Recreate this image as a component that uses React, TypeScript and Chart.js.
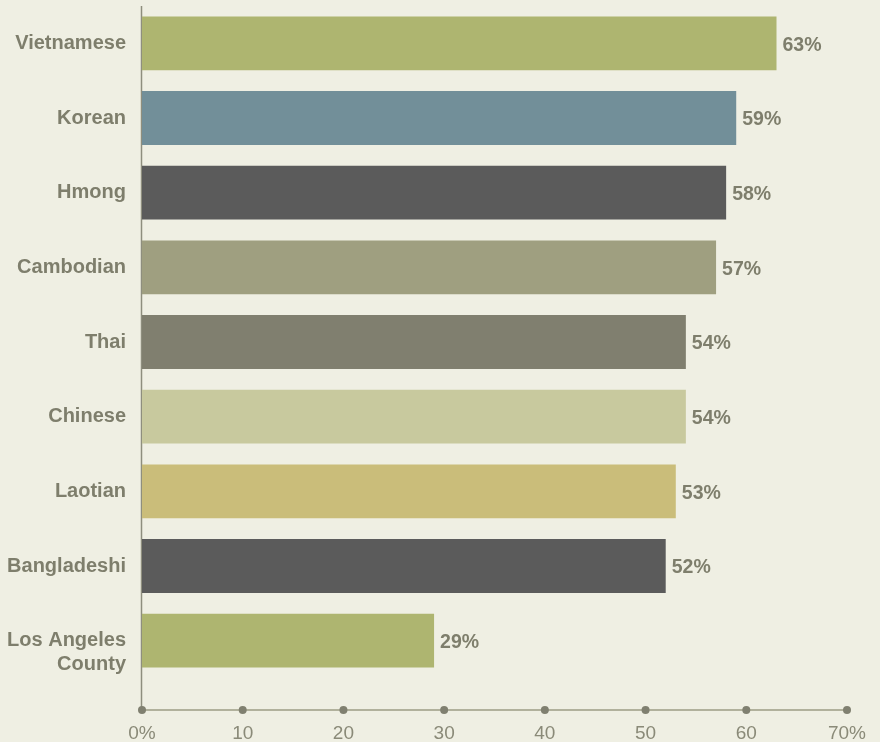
import React, { useEffect, useRef } from "react";
import { Chart, registerables } from "chart.js";

Chart.register(...registerables);

const categories: (string | string[])[] = [
  "Vietnamese",
  "Korean",
  "Hmong",
  "Cambodian",
  "Thai",
  "Chinese",
  "Laotian",
  "Bangladeshi",
  ["", "Los Angeles", "County"],
];
const values = [63, 59, 58, 57, 54, 54, 53, 52, 29];
const barColors = [
  "#aeb570",
  "#728f99",
  "#5b5b5b",
  "#9f9f80",
  "#807f6f",
  "#c8c99e",
  "#cabd7a",
  "#5b5b5b",
  "#aeb570",
];
const xTicks = [0, 10, 20, 30, 40, 50, 60, 70];

const BG = "#efefe3";
const TEXT = "#7e7e6c";
const FONT = "'Liberation Sans', Arial, sans-serif";

export default function App() {
  const ref = useRef<HTMLCanvasElement | null>(null);

  useEffect(() => {
    document.body.style.margin = "0";
    document.body.style.background = BG;
    const canvas = ref.current;
    if (!canvas) return;

    const bgPlugin = {
      id: "bg",
      beforeDraw(chart: any) {
        const ctx = chart.ctx;
        ctx.save();
        ctx.fillStyle = BG;
        ctx.fillRect(0, 0, chart.width, chart.height);
        ctx.restore();
      },
    };

    const axesPlugin = {
      id: "axesDeco",
      beforeDatasetsDraw(chart: any) {
        const ctx = chart.ctx;
        const xs = chart.scales.x;
        const area = chart.chartArea;
        const axisY = area.bottom + 32;
        const x0 = xs.getPixelForValue(0);
        ctx.save();
        // vertical axis
        ctx.strokeStyle = "#8e8e7e";
        ctx.lineWidth = 1.5;
        ctx.beginPath();
        ctx.moveTo(x0 - 0.5, area.top);
        ctx.lineTo(x0 - 0.5, axisY);
        ctx.stroke();
        // horizontal axis
        ctx.strokeStyle = "#b1b19c";
        ctx.lineWidth = 2;
        ctx.beginPath();
        ctx.moveTo(x0, axisY);
        ctx.lineTo(xs.getPixelForValue(xTicks[xTicks.length - 1]), axisY);
        ctx.stroke();
        ctx.fillStyle = "#808070";
        for (const t of xTicks) {
          const px = xs.getPixelForValue(t);
          ctx.beginPath();
          ctx.arc(px, axisY, 4, 0, Math.PI * 2);
          ctx.fill();
        }
        ctx.restore();
      },
    };

    const valuePlugin = {
      id: "valueLabels",
      afterDatasetsDraw(chart: any) {
        const ctx = chart.ctx;
        const meta = chart.getDatasetMeta(0);
        ctx.save();
        ctx.fillStyle = TEXT;
        ctx.font = `bold 19.5px ${FONT}`;
        ctx.textAlign = "left";
        ctx.textBaseline = "middle";
        meta.data.forEach((bar: any, i: number) => {
          ctx.fillText(values[i] + "%", bar.x + 6, bar.y + 2);
        });
        ctx.restore();
      },
    };

    const zeroPad = (s: any) => {
      s.paddingTop = 0;
      s.paddingBottom = 0;
      s.paddingLeft = 0;
      s.paddingRight = 0;
    };

    const chart = new Chart(canvas, {
      type: "bar",
      data: {
        labels: categories,
        datasets: [
          {
            data: values,
            backgroundColor: barColors,
            borderWidth: 0,
            barPercentage: 1,
            categoryPercentage: 0.72,
          },
        ],
      },
      options: {
        indexAxis: "y",
        responsive: false,
        animation: false,
        events: [],
        layout: { padding: { top: 6, right: 33, bottom: 0, left: 0 } },
        plugins: {
          legend: { display: false },
          tooltip: { enabled: false },
        },
        scales: {
          x: {
            min: 0,
            max: 70,
            grid: { display: false, drawTicks: false },
            border: { display: false },
            ticks: {
              stepSize: 10,
              padding: 44,
              color: "#8a8a78",
              font: { family: FONT, size: 19 },
              maxRotation: 0,
              autoSkip: false,
              callback: (v: any) =>
                v === 0 || v === 70 ? `${v}%` : `${v}`,
            },
            afterFit: (s: any) => {
              s.height = 64;
              zeroPad(s);
            },
          },
          y: {
            grid: { display: false, drawTicks: false },
            border: { display: false },
            ticks: {
              padding: 16,
              autoSkip: false,
              color: TEXT,
              font: { family: FONT, size: 20, weight: "bold", lineHeight: 1.2 },
            },
            afterFit: (s: any) => {
              s.width = 142;
              zeroPad(s);
            },
          },
        },
      },
      plugins: [bgPlugin, axesPlugin, valuePlugin],
    });

    return () => chart.destroy();
  }, []);

  return (
    <div style={{ width: 880, height: 742, background: BG }}>
      <canvas ref={ref} width={880} height={742} style={{ display: "block" }} />
    </div>
  );
}
